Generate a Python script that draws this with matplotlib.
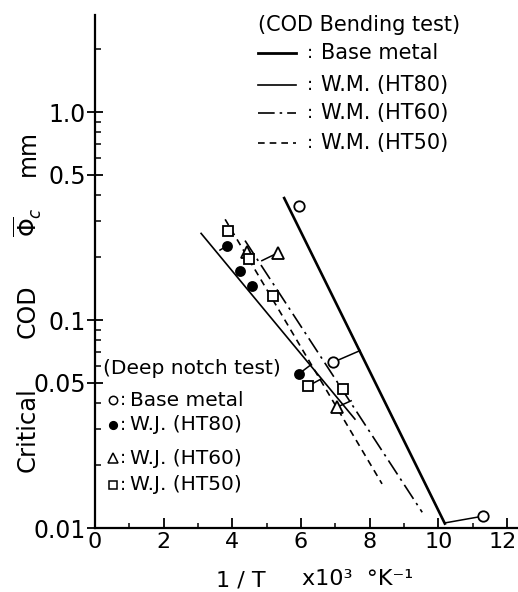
import matplotlib
matplotlib.use("Agg")
from matplotlib import pyplot as plt
from matplotlib.lines import Line2D
from matplotlib.transforms import ScaledTranslation
from matplotlib.ticker import FixedLocator, LogLocator, NullFormatter, MultipleLocator

# COD bending test: fitted lines (end points)
base_line_x = [5.51, 10.19]
base_line_y = [0.386, 0.0105]
ht80_line_x = [3.09, 7.57]
ht80_line_y = [0.261, 0.0334]
ht60_line_x = [4.37, 9.53]
ht60_line_y = [0.241, 0.0119]
ht50_line_x = [3.79, 8.36]
ht50_line_y = [0.305, 0.0163]

# deep notch test: measured points
base_pts_x = [5.93, 6.92, 11.30]
base_pts_y = [0.353, 0.0625, 0.0114]
ht80_pts_x = [3.84, 4.22, 4.56, 5.95]
ht80_pts_y = [0.227, 0.173, 0.145, 0.0553]
ht60_pts_x = [4.42, 5.34, 7.06]
ht60_pts_y = [0.213, 0.211, 0.0382]
ht50_pts_x = [3.88, 4.49, 5.19, 6.21, 7.22]
ht50_pts_y = [0.268, 0.196, 0.130, 0.0482, 0.0464]

# short leader lines from a point to its line
leader_from_x = [6.92, 11.30, 3.84, 5.95, 5.34, 6.21, 7.06]
leader_from_y = [0.0625, 0.0114, 0.227, 0.0553, 0.211, 0.0482, 0.0382]
leader_to_x = [7.72, 10.22, 3.64, 6.28, 4.86, 6.57, 7.46]
leader_to_y = [0.0713, 0.0106, 0.217, 0.0608, 0.193, 0.0519, 0.0409]

x_ticks = [0, 2, 4, 6, 8, 10, 12]
y_ticks = [0.01, 0.05, 0.1, 0.5, 1.0]
y_ticklabels = ["0.01", "0.05", "0.1", "0.5", "1.0"]

W, H = 518, 592


def fx(px):
    return px / W


def fy(py):
    return 1 - py / H


fig = plt.figure(figsize=(W / 100, H / 100), dpi=100)
ax = fig.add_axes([fx(95), fy(528), 1 - fx(95), fy(15) - fy(528)])

dashdot = (0, (10, 3, 1.5, 3))
dashed = (0, (4, 3))

ax.plot(base_line_x, base_line_y, color="black", lw=1.9)
ax.plot(ht80_line_x, ht80_line_y, color="black", lw=1.2)
ax.plot(ht60_line_x, ht60_line_y, color="black", lw=1.2, linestyle=dashdot)
ax.plot(ht50_line_x, ht50_line_y, color="black", lw=1.2, linestyle=dashed)

for x0, y0, x1, y1 in zip(leader_from_x, leader_from_y, leader_to_x, leader_to_y):
    ax.plot([x0, x1], [y0, y1], color="black", lw=1.1, zorder=2)

mk = dict(linestyle="none", color="black", mew=1.3, zorder=4, clip_on=False)
ax.plot(base_pts_x, base_pts_y, marker="o", ms=7.5, mfc="white", **mk)
ax.plot(ht80_pts_x, ht80_pts_y, marker="o", ms=6.5, mfc="black", **mk)
ax.plot(ht60_pts_x, ht60_pts_y, marker="^", ms=8, mfc="white", **mk)
ax.plot(ht50_pts_x, ht50_pts_y, marker="s", ms=7, mfc="white", **mk)

ax.set_yscale("log")
ax.set_xlim(0, 12.32)
ax.set_ylim(0.01, 2.93)

ax.yaxis.set_major_locator(FixedLocator(y_ticks))
ax.set_yticklabels(y_ticklabels)
ax.yaxis.set_minor_locator(LogLocator(base=10, subs=range(2, 10)))
ax.yaxis.set_minor_formatter(NullFormatter())
ax.xaxis.set_major_locator(FixedLocator(x_ticks))
ax.set_xticklabels([str(v) for v in x_ticks])
ax.xaxis.set_minor_locator(MultipleLocator(1))

ax.tick_params(axis="y", which="major", direction="inout", length=11, width=1.3,
               labelsize=17, pad=1)
ax.tick_params(axis="y", which="minor", direction="in", length=4, width=1.1)
ax.tick_params(axis="x", which="major", direction="in", length=7, width=1.3,
               labelsize=16, pad=3)
ax.tick_params(axis="x", which="minor", direction="in", length=3.5, width=1.1)

# the last x label sits at the figure edge; nudge it a few pixels left
last = ax.xaxis.get_major_ticks()[-1].label1
last.set_transform(last.get_transform() + ScaledTranslation(-0.04, 0, fig.dpi_scale_trans))

for s in ["top", "right"]:
    ax.spines[s].set_visible(False)
for s in ["left", "bottom"]:
    ax.spines[s].set_linewidth(1.6)

# axis labels
fig.text(fx(28), fy(153), "mm", rotation=90, ha="center", va="center", fontsize=17)
fig.text(fx(28), fy(222), r"$\overline{\Phi}_{c}$", rotation=90, ha="center", va="center", fontsize=17)
fig.text(fx(28), fy(311), "COD", rotation=90, ha="center", va="center", fontsize=17)
fig.text(fx(28), fy(430), "Critical", rotation=90, ha="center", va="center", fontsize=17.5)
fig.text(fx(241), fy(580), "1 / T", ha="center", va="center", fontsize=16)
fig.text(fx(358), fy(579), "x10³  °K⁻¹", ha="center", va="center", fontsize=16)

# legend: COD bending test
fig.text(fx(258), fy(25), "(COD Bending test)", ha="left", va="center", fontsize=15)
leg_rows = [53, 85, 113, 143]
leg_names = ["Base metal", "W.M. (HT80)", "W.M. (HT60)", "W.M. (HT50)"]
leg_styles = [("-", 2.0), ("-", 1.2), (dashdot, 1.2), (dashed, 1.2)]
for row, name, (ls, lw) in zip(leg_rows, leg_names, leg_styles):
    fig.add_artist(Line2D([fx(258), fx(296)], [fy(row), fy(row)], color="black",
                          lw=lw, linestyle=ls))
    fig.text(fx(310), fy(row), ":", ha="center", va="center", fontsize=13)
    fig.text(fx(321), fy(row), name, ha="left", va="center", fontsize=15)

# legend: deep notch test
fig.text(fx(103), fy(368), "(Deep notch test)", ha="left", va="center", fontsize=14.5)
dn_rows = [400, 425, 458, 485]
dn_names = ["Base metal", "W.J. (HT80)", "W.J. (HT60)", "W.J. (HT50)"]
dn_marks = [("o", "white", 6), ("o", "black", 5.5), ("^", "white", 6.5), ("s", "white", 5.5)]
for row, name, (m, fc, ms) in zip(dn_rows, dn_names, dn_marks):
    fig.add_artist(Line2D([fx(113)], [fy(row)], marker=m, mfc=fc, mec="black",
                          ms=ms, mew=1.1, linestyle="none"))
    fig.text(fx(123), fy(row), ":", ha="center", va="center", fontsize=13)
    fig.text(fx(130), fy(row), name, ha="left", va="center", fontsize=14.5)

fig.savefig("out.png", dpi=100)
